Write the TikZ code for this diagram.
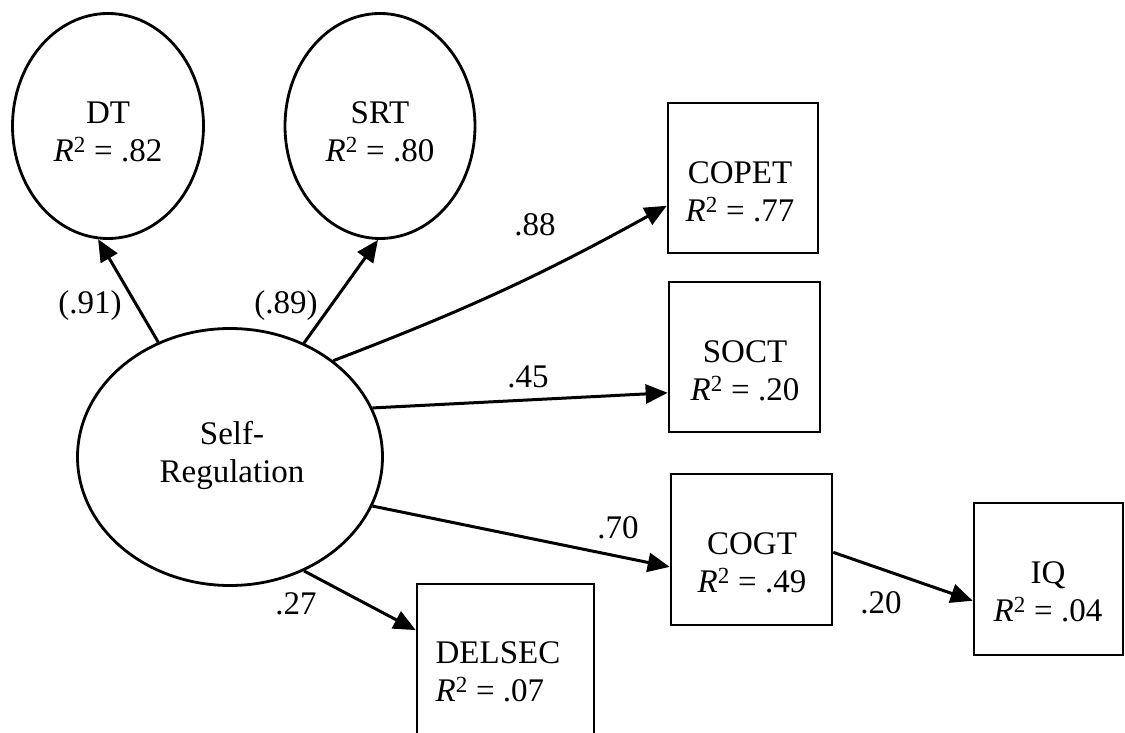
\documentclass[tikz,border=0pt]{standalone}
\usepackage{fontspec}
\setmainfont{Liberation Serif}
\usetikzlibrary{arrows.meta,calc,shapes.geometric}
\begin{document}
\begin{tikzpicture}[x=1pt,y=-1pt,
  every node/.style={font=\fontsize{33}{38}\selectfont},
  lat/.style={draw, ellipse, line width=2.8pt, inner sep=0pt},
  obs/.style={draw, rectangle, line width=2.6pt, inner sep=0pt},
  lbl/.style={align=center, inner sep=0pt},
  lbll/.style={align=left, inner sep=0pt},
  coef/.style={inner sep=0pt},
  arr/.style={line width=3pt, -{Triangle[length=22pt,width=19pt]}}
]
\useasboundingbox (0,0) rectangle (1125,733);

% latent variables
\node[lat, minimum width=191pt, minimum height=225pt] (dt)  at (108,126) {};
\node[lat, minimum width=190pt, minimum height=225pt] (srt) at (380,126) {};
\node[lat, minimum width=305pt, minimum height=257pt] (sr)  at (230,457) {};

% observed variables
\node[obs, minimum width=150pt, minimum height=150pt] (copet)  at (743,178) {};
\node[obs, minimum width=151pt, minimum height=150pt] (soct)   at (744.5,357) {};
\node[obs, minimum width=161pt, minimum height=151pt] (cogt)   at (751.5,549.5) {};
\node[obs, minimum width=149pt, minimum height=152pt] (iq)     at (1048.5,579) {};
\node[obs, minimum width=177pt, minimum height=176pt] (delsec) at (505.5,672) {};

% texts
\node[lbl] (dtt)  at (108,131.5) {DT\\\textit{R}\textsuperscript{2} = .82};
\node[lbl] (srtt) at (380,131.5) {SRT\\\textit{R}\textsuperscript{2} = .80};
\node[lbl] (srtx) at (232,455) {Self-\\Regulation};
\node[lbl] (copett) at (740,191.5) {COPET\\\textit{R}\textsuperscript{2} = .77};
\node[lbl] (soctt)  at (745,370.5) {SOCT\\\textit{R}\textsuperscript{2} = .20};
\node[lbl] (cogtt)  at (752,562.5) {COGT\\\textit{R}\textsuperscript{2} = .49};
\node[lbl] (iqt)    at (1048,591.5) {IQ\\\textit{R}\textsuperscript{2} = .04};
\node[lbll] (delsect) at (498,671.5) {DELSEC\\\textit{R}\textsuperscript{2} = .07};

% paths
\draw[arr] (sr.122.5) -- (dt.-95);
\draw[arr] (sr.57) -- (srt.-91);
\draw[arr] (sr.43) to[bend right=4] (copet.200);
\draw[arr] (sr.19.6) -- (soct.205.5);
\draw[arr] (sr.-19.3) -- (cogt.192.9);
\draw[arr] (sr.-57) -- (delsec.155.4);
\draw[arr] (cogt.-2) -- (iq.196);

% coefficients
\node[coef] (c91) at (90,305.5) {(.91)};
\node[coef] (c89) at (286,305.5) {(.89)};
\node[coef] (c88) at (535,224.5) {.88};
\node[coef] (c45) at (528,377) {.45};
\node[coef] (c70) at (618,527.5) {.70};
\node[coef] (c27) at (296,603.5) {.27};
\node[coef] (c20) at (881,603) {.20};
\end{tikzpicture}
\end{document}
